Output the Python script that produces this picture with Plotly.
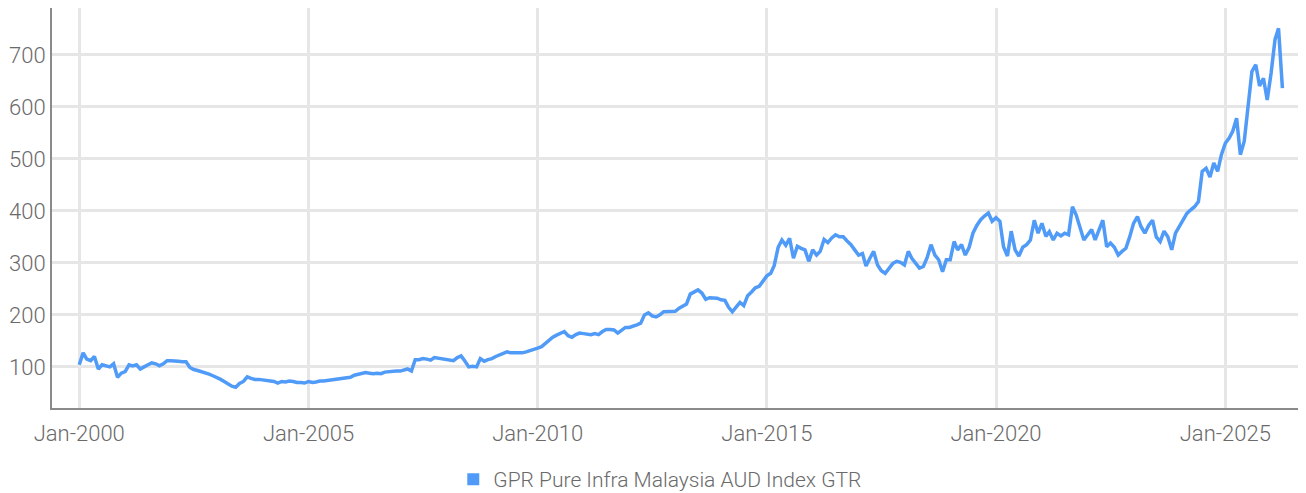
import pandas as pd
import plotly.graph_objects as go

series_name = "GPR Pure Infra Malaysia AUD Index GTR"
start_month = "2000-01-01"

values = [
    # 2000
    104, 127, 115, 112, 120, 96, 104, 102, 100, 106, 80, 88,
    # 2001
    91, 104, 102, 104, 96, 100, 104, 108, 106, 102, 106, 112,
    # 2002
    112, 112, 111, 110, 110, 99, 95, 93, 91, 88, 86, 83,
    # 2003
    80, 76, 72, 68, 63, 61, 68, 72, 81, 78, 76, 76,
    # 2004
    75, 74, 74, 72, 69, 72, 71, 73, 72, 70, 70, 69,
    # 2005
    72, 70, 71, 73, 73, 74, 75, 77, 78, 79, 80, 80,
    # 2006
    84, 86, 88, 89, 88, 87, 88, 87, 90, 91, 91, 92,
    # 2007
    92, 94, 96, 92, 114, 114, 116, 115, 113, 118, 117, 116,
    # 2008
    115, 114, 112, 118, 121, 111, 100, 101, 100, 116, 111, 114,
    # 2009
    116, 120, 123, 126, 129, 127, 127, 128, 127, 129, 131, 133,
    # 2010
    136, 139, 145, 150, 157, 161, 164, 168, 160, 157, 162, 165,
    # 2011
    164, 163, 162, 164, 162, 168, 172, 172, 171, 165, 170, 176,
    # 2012
    176, 178, 181, 184, 200, 204, 198, 196, 200, 206, 206, 206,
    # 2013
    207, 213, 216, 221, 240, 244, 248, 242, 230, 233, 232, 232,
    # 2014
    229, 228, 215, 206, 215, 224, 218, 237, 244, 252, 255, 265,
    # 2015
    275, 280, 295, 330, 344, 334, 347, 309, 332, 328, 325, 303,
    # 2016
    325, 315, 322, 345, 339, 348, 354, 350, 350, 342, 335, 325,
    # 2017
    315, 318, 294, 309, 322, 296, 285, 280, 290, 299, 303, 301,
    # 2018
    296, 322, 309, 300, 290, 293, 310, 335, 315, 306, 283, 306,
    # 2019
    306, 341, 325, 335, 315, 330, 357, 372, 383, 390, 396, 380,
    # 2020
    387, 380, 331, 313, 361, 325, 313, 330, 335, 344, 382, 357,
    # 2021
    376, 351, 360, 344, 357, 352, 357, 354, 408, 392, 367, 344,
    # 2022
    354, 364, 344, 364, 382, 331, 338, 330, 315, 322, 328, 350,
    # 2023
    376, 389, 370, 357, 372, 382, 350, 341, 361, 350, 325, 357,
    # 2024
    370, 380, 395, 402, 408, 418, 476, 482, 465, 492, 476, 508,
    # 2025
    530, 540, 553, 578, 508, 534, 600, 668, 681, 640, 655, 613,
    # 2026
    665, 729, 751, 636,
]

dates = pd.date_range(start_month, periods=len(values), freq="MS")

y_ticks = [100, 200, 300, 400, 500, 600, 700]
x_range = ["1999-05-29", "2026-10-06"]
y_range = [21, 790]

line_color = "#4F9BF7"
text_color = "#6A6A6A"
grid_color = "#E6E6E6"
axis_color = "#8A8A8A"
font_family = "Roboto"

fig = go.Figure()
fig.add_trace(go.Scatter(
    x=dates, y=values, mode="lines",
    line=dict(color=line_color, width=3.5),
    showlegend=False, name=series_name,
))
fig.add_trace(go.Scatter(
    x=[None], y=[None], mode="markers",
    marker=dict(symbol="square", size=12, color=line_color),
    name=series_name, showlegend=True,
))

# the page body adds an 8px offset, so the figure is sized to fit the window
fig.update_layout(
    width=1298, height=485,
    margin=dict(l=44, r=0, t=0, b=85, autoexpand=False),
    paper_bgcolor="white", plot_bgcolor="white",
    font=dict(family=font_family, size=22, color=text_color, weight=300),
    legend=dict(
        orientation="h", x=0.320, xanchor="left", y=-0.1275, yanchor="top",
        font=dict(size=21, color=text_color, family=font_family, weight=300),
        itemwidth=30,
    ),
)
fig.update_xaxes(
    range=x_range, type="date", automargin=False,
    tick0="2000-01-01", dtick="M60", tickformat="%b-%Y",
    showgrid=True, gridcolor=grid_color, gridwidth=3,
    showline=True, linecolor=axis_color, linewidth=2,
    ticks="", ticklabelstandoff=5,
    zeroline=False,
)
fig.update_yaxes(
    range=y_range, tickvals=y_ticks, automargin=False,
    showgrid=True, gridcolor=grid_color, gridwidth=3,
    showline=True, linecolor=axis_color, linewidth=2,
    ticks="", ticklabelstandoff=0,
    zeroline=False,
)

fig.write_html("out.html")
